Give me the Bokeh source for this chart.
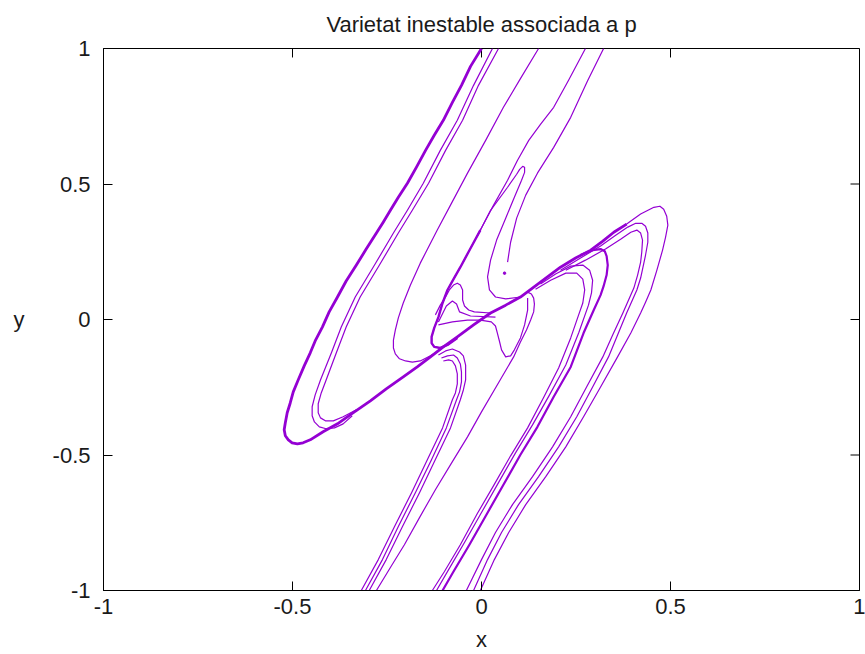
from bokeh.plotting import figure
from bokeh.models import FixedTicker, Range1d
from bokeh.embed import file_html
from bokeh.resources import INLINE

TITLE = "Varietat inestable associada a p"
X_LABEL = "x"
Y_LABEL = "y"
TICKS = [-1, -0.5, 0, 0.5, 1]
TICK_LABELS = ["-1", "-0.5", "0", "0.5", "1"]
COLOR = "#9400D3"

# outer left band + central diagonal (thick)
OUTER_X = [0.000, -0.029, -0.053, -0.077, -0.101, -0.125, -0.148, -0.172, -0.196, -0.220, -0.241, -0.260, -0.278,
           -0.305, -0.331, -0.358, -0.381, -0.403, -0.421, -0.440, -0.453, -0.469, -0.485, -0.498, -0.506, -0.514,
           -0.519, -0.522, -0.519, -0.511, -0.501, -0.487, -0.472, -0.453, -0.419, -0.381, -0.339, -0.294, -0.252,
           -0.207, -0.170, -0.135, -0.101, -0.064, -0.021, 0.024, 0.064, 0.103, 0.156, 0.209, 0.249, 0.289, 0.321,
           0.350, 0.384]
OUTER_Y = [1.000, 0.934, 0.864, 0.801, 0.735, 0.680, 0.624, 0.562, 0.503, 0.451, 0.403, 0.359, 0.319, 0.260,
           0.201, 0.142, 0.083, 0.028, -0.028, -0.079, -0.123, -0.171, -0.223, -0.267, -0.308, -0.344, -0.381,
           -0.407, -0.429, -0.444, -0.455, -0.459, -0.455, -0.444, -0.414, -0.385, -0.344, -0.300, -0.256, -0.212,
           -0.175, -0.138, -0.101, -0.064, -0.020, 0.024, 0.053, 0.083, 0.138, 0.193, 0.227, 0.256, 0.289, 0.322,
           0.352]

# right outer loops (thin) going down to the bottom
LOOP1_X = [0.350, 0.384, 0.421, 0.456, 0.472, 0.482, 0.490, 0.493, 0.487, 0.479, 0.464, 0.448, 0.434, 0.421,
           0.395, 0.360, 0.315, 0.270, 0.223, 0.170, 0.117, 0.072, 0.034, -0.003]
LOOP1_Y = [0.322, 0.352, 0.389, 0.414, 0.418, 0.407, 0.381, 0.348, 0.304, 0.256, 0.182, 0.109, 0.064, 0.024,
           -0.050, -0.138, -0.249, -0.359, -0.470, -0.580, -0.683, -0.786, -0.886, -1.0]
LOOP2_X = [0.209, 0.262, 0.315, 0.355, 0.387, 0.408, 0.424, 0.434, 0.440, 0.440, 0.434, 0.421, 0.411, 0.384,
           0.360, 0.336, 0.294, 0.252, 0.204, 0.151, 0.098, 0.053, 0.016, -0.021]
LOOP2_Y = [0.182, 0.227, 0.271, 0.311, 0.341, 0.355, 0.355, 0.344, 0.319, 0.285, 0.238, 0.153, 0.109, 0.024,
           -0.057, -0.138, -0.249, -0.359, -0.470, -0.580, -0.683, -0.786, -0.886, -1.0]
LOOP3_X = [0.223, 0.275, 0.328, 0.368, 0.395, 0.411, 0.421, 0.426, 0.424, 0.421, 0.413, 0.403, 0.374, 0.347,
           0.321, 0.278, 0.236, 0.188, 0.135, 0.082, 0.037, 0.000, -0.040]
LOOP3_Y = [0.182, 0.219, 0.260, 0.296, 0.322, 0.330, 0.319, 0.293, 0.249, 0.212, 0.164, 0.116, 0.024, -0.057,
           -0.138, -0.249, -0.359, -0.470, -0.580, -0.683, -0.786, -0.886, -1.0]

# inner right loops (one thick, two thin)
INNER1_X = [0.262, 0.294, 0.315, 0.326, 0.331, 0.334, 0.331, 0.323, 0.315, 0.297, 0.270, 0.236, 0.191, 0.148,
            0.103, 0.058, 0.016, -0.032, -0.074, -0.103]
INNER1_Y = [0.238, 0.256, 0.260, 0.252, 0.234, 0.201, 0.164, 0.123, 0.090, 0.035, -0.050, -0.175, -0.285,
            -0.396, -0.499, -0.610, -0.713, -0.831, -0.930, -1.0]
INNER2_X = [0.156, 0.196, 0.236, 0.268, 0.286, 0.294, 0.291, 0.283, 0.257, 0.223, 0.180, 0.135, 0.090, 0.045,
            0.003, -0.045, -0.087, -0.119]
INNER2_Y = [0.131, 0.168, 0.197, 0.201, 0.182, 0.145, 0.098, 0.053, -0.050, -0.168, -0.278, -0.389, -0.492,
            -0.602, -0.705, -0.823, -0.923, -1.0]
INNER3_X = [0.143, 0.183, 0.223, 0.252, 0.268, 0.273, 0.268, 0.257, 0.236, 0.204, 0.164, 0.122, 0.077, 0.032,
            -0.011, -0.056, -0.098, -0.130]
INNER3_Y = [0.112, 0.145, 0.171, 0.171, 0.149, 0.109, 0.061, 0.017, -0.068, -0.179, -0.289, -0.400, -0.503,
            -0.613, -0.716, -0.831, -0.930, -1.0]

# left inner hairpin strands
HAIR_A_X = [0.029, -0.021, -0.064, -0.109, -0.154, -0.196, -0.233, -0.283, -0.334, -0.371, -0.397, -0.426,
            -0.440, -0.448, -0.448, -0.442, -0.429, -0.411, -0.389, -0.366, -0.342]
HAIR_A_Y = [1.0, 0.864, 0.735, 0.624, 0.503, 0.403, 0.319, 0.201, 0.083, -0.028, -0.123, -0.223, -0.278,
            -0.322, -0.355, -0.378, -0.396, -0.403, -0.400, -0.385, -0.355]
HAIR_B_X = [0.045, -0.008, -0.050, -0.095, -0.140, -0.183, -0.220, -0.270, -0.321, -0.358, -0.384, -0.411,
            -0.424, -0.432, -0.432, -0.426, -0.413, -0.392, -0.366, -0.331]
HAIR_B_Y = [1.0, 0.864, 0.735, 0.624, 0.503, 0.403, 0.319, 0.201, 0.083, -0.028, -0.123, -0.223, -0.271,
            -0.311, -0.344, -0.363, -0.374, -0.374, -0.359, -0.333]

# single curve from the top making the S-hairpin left of centre
S_LEFT_X = [0.151, 0.103, 0.058, 0.011, -0.037, -0.082, -0.117, -0.162, -0.188, -0.207, -0.220, -0.228, -0.233,
            -0.233, -0.228, -0.217, -0.201, -0.183, -0.162, -0.135, -0.109]
S_LEFT_Y = [1.0, 0.889, 0.783, 0.661, 0.540, 0.422, 0.330, 0.208, 0.127, 0.061, 0.006, -0.039, -0.076, -0.105,
            -0.127, -0.145, -0.153, -0.157, -0.153, -0.134, -0.112]

# curve from the top into the central cusp
CUSP_X = [0.275, 0.230, 0.191, 0.156, 0.125, 0.095, 0.069, 0.032, -0.003, -0.029, -0.056, -0.074, -0.090,
          -0.103, -0.114, -0.125, -0.132, -0.132, -0.125, -0.109, -0.090, -0.064]
CUSP_Y = [1.0, 0.882, 0.783, 0.720, 0.661, 0.587, 0.514, 0.422, 0.330, 0.263, 0.193, 0.149, 0.109, 0.061,
          0.009, -0.031, -0.064, -0.087, -0.101, -0.105, -0.094, -0.068]

# finger and upper S-hook
FINGER_X = [-0.011, 0.024, 0.069, 0.093, 0.101, 0.109, 0.114, 0.114, 0.106, 0.087, 0.064, 0.040, 0.024, 0.016,
            0.021, 0.037, 0.064, 0.103]
FINGER_Y = [0.308, 0.403, 0.488, 0.536, 0.554, 0.565, 0.562, 0.543, 0.514, 0.451, 0.374, 0.293, 0.219, 0.157,
            0.109, 0.083, 0.076, 0.083]
RIGHT_TOP_X = [0.323, 0.281, 0.236, 0.191, 0.148, 0.117, 0.093, 0.077, 0.069]
RIGHT_TOP_Y = [1.0, 0.882, 0.746, 0.635, 0.540, 0.459, 0.374, 0.285, 0.212]
DOT_X = [0.061]
DOT_Y = [0.171]

# lower-left hairpin band (three strands)
LOW1_X = [-0.114, -0.095, -0.077, -0.058, -0.048, -0.042, -0.042, -0.048, -0.056, -0.082, -0.122, -0.164,
          -0.209, -0.252, -0.297]
LOW1_Y = [-0.131, -0.116, -0.109, -0.120, -0.134, -0.168, -0.223, -0.260, -0.296, -0.400, -0.517, -0.639,
          -0.764, -0.886, -1.0]
LOW2_X = [-0.106, -0.090, -0.074, -0.064, -0.056, -0.053, -0.053, -0.058, -0.066, -0.093, -0.132, -0.175,
          -0.220, -0.262, -0.307]
LOW2_Y = [-0.142, -0.134, -0.131, -0.142, -0.164, -0.193, -0.230, -0.267, -0.296, -0.400, -0.517, -0.639,
          -0.764, -0.886, -1.0]
LOW3_X = [-0.101, -0.087, -0.077, -0.069, -0.064, -0.064, -0.069, -0.077, -0.103, -0.143, -0.185, -0.230,
          -0.273, -0.318]
LOW3_Y = [-0.153, -0.149, -0.153, -0.171, -0.201, -0.238, -0.271, -0.296, -0.400, -0.517, -0.639, -0.764,
          -0.886, -1.0]

# single line from the right lobe down to the bottom
SINGLE_X = [0.122, 0.132, 0.138, 0.140, 0.138, 0.130, 0.119, 0.103, 0.085, 0.042, 0.000, -0.037, -0.079,
            -0.122, -0.164, -0.204, -0.241, -0.278]
SINGLE_Y = [0.101, 0.094, 0.079, 0.057, 0.028, -0.002, -0.039, -0.083, -0.138, -0.241, -0.341, -0.433,
            -0.529, -0.628, -0.731, -0.831, -0.915, -1.0]

# central bow-tie lobes
BOOT_X = [-0.114, -0.077, -0.037, -0.003, 0.026, 0.037, 0.042, 0.048, 0.053, 0.064, 0.077, 0.087, 0.103, 0.114,
          0.122, 0.122]
BOOT_Y = [-0.020, -0.009, -0.002, -0.002, -0.009, -0.024, -0.050, -0.083, -0.112, -0.138, -0.134, -0.112,
          -0.068, -0.020, 0.035, 0.079]
LOBE_X = [-0.122, -0.109, -0.095, -0.085, -0.074, -0.064, -0.056, -0.050, -0.050, -0.045, -0.034, -0.019, 0.024]
LOBE_Y = [0.017, 0.053, 0.083, 0.109, 0.127, 0.134, 0.127, 0.109, 0.072, 0.050, 0.035, 0.028, 0.024]
LOBE2_X = [-0.114, -0.093, -0.077, -0.066, -0.058, -0.029, 0.037]
LOBE2_Y = [-0.009, 0.050, 0.068, 0.057, 0.028, 0.013, 0.009]

FONT = "Liberation Sans"
TXT = "#1a1a1a"
W, H = 865, 654
BL, BR, BT, BB = 103, 6, 48, 63
TICK_LEN = 9
FRAME_W = W - BL - BR
FRAME_H = H - BT - BB

p = figure(width=W, height=H, x_range=Range1d(-1, 1), y_range=Range1d(-1, 1),
           output_backend="svg", toolbar_location=None,
           min_border_left=BL, min_border_right=BR, min_border_top=BT, min_border_bottom=BB,
           x_axis_label=X_LABEL, y_axis_label=Y_LABEL)
p.grid.visible = False
p.outline_line_color = "black"
p.outline_line_width = 1
p.background_fill_color = "white"
p.border_fill_color = "white"

bottom_axis = p.below[0]
left_axis = p.left[0]

p.title.text = TITLE
p.title.align = "center"
p.title.vertical_align = "top"
p.title.text_font = FONT
p.title.text_font_size = "22px"
p.title.text_font_style = "normal"
p.title.text_color = TXT
p.title.standoff = 20

for ax in (bottom_axis, left_axis):
    ax.ticker = FixedTicker(ticks=TICKS, minor_ticks=[])
    ax.major_label_overrides = dict(zip(TICKS, TICK_LABELS))
    ax.major_tick_in = TICK_LEN
    ax.major_tick_out = 0
    ax.minor_tick_in = 0
    ax.minor_tick_out = 0
    ax.axis_line_color = "black"
    ax.major_tick_line_color = "black"
    ax.major_label_text_font = FONT
    ax.major_label_text_font_size = "22px"
    ax.major_label_text_color = TXT
    ax.axis_label_text_font = FONT
    ax.axis_label_text_font_style = "normal"
    ax.axis_label_text_font_size = "22px"
    ax.axis_label_text_color = TXT

bottom_axis.major_label_standoff = 8
bottom_axis.axis_label_standoff = 10
left_axis.major_label_standoff = 13
left_axis.axis_label_standoff = 25
left_axis.axis_label_orientation = "horizontal"

# mirrored inward ticks on the top and right borders
px_per_x = FRAME_W / 2.0
px_per_y = FRAME_H / 2.0
p.segment(x0=TICKS, y0=[1] * len(TICKS), x1=TICKS, y1=[1 - TICK_LEN / px_per_y] * len(TICKS),
          line_color="black", line_width=1)
p.segment(x0=[1] * len(TICKS), y0=TICKS, x1=[1 - TICK_LEN / px_per_x] * len(TICKS), y1=TICKS,
          line_color="black", line_width=1)

thin = [(LOOP1_X, LOOP1_Y), (LOOP2_X, LOOP2_Y), (LOOP3_X, LOOP3_Y), (INNER2_X, INNER2_Y),
        (INNER3_X, INNER3_Y), (HAIR_A_X, HAIR_A_Y), (HAIR_B_X, HAIR_B_Y), (S_LEFT_X, S_LEFT_Y),
        (CUSP_X, CUSP_Y), (FINGER_X, FINGER_Y), (RIGHT_TOP_X, RIGHT_TOP_Y), (LOW1_X, LOW1_Y),
        (LOW2_X, LOW2_Y), (LOW3_X, LOW3_Y), (SINGLE_X, SINGLE_Y), (BOOT_X, BOOT_Y),
        (LOBE_X, LOBE_Y), (LOBE2_X, LOBE2_Y)]
for xs, ys in thin:
    p.line(xs, ys, line_color=COLOR, line_width=1.2, line_join="round")

p.line(OUTER_X, OUTER_Y, line_color=COLOR, line_width=2.8, line_join="round")
p.line(INNER1_X, INNER1_Y, line_color=COLOR, line_width=2.2, line_join="round")
p.line(CUSP_X[8:], CUSP_Y[8:], line_color=COLOR, line_width=2.4, line_join="round")
p.scatter(DOT_X, DOT_Y, size=2.5, color=COLOR)

open("out.html", "w").write(file_html(p, INLINE))
